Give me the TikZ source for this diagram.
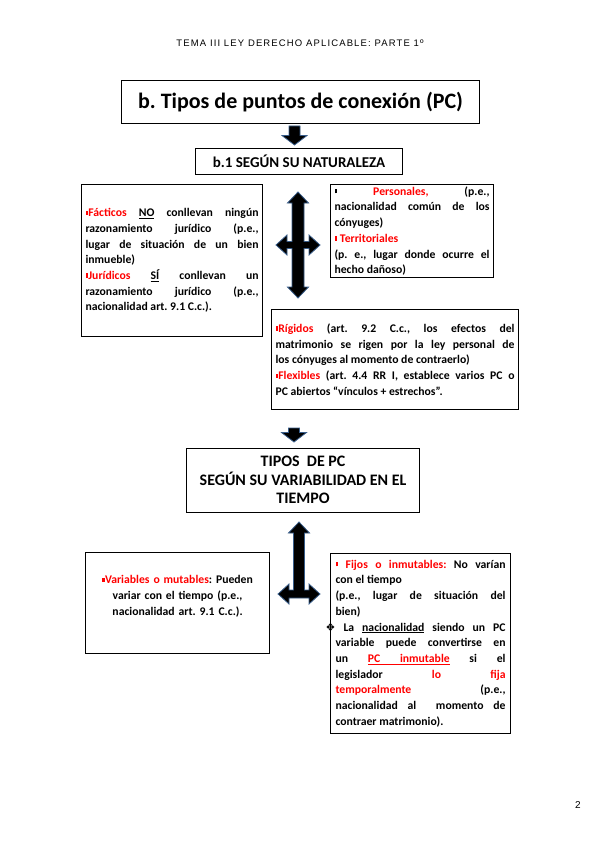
\documentclass[tikz,border=0pt]{standalone}
\usepackage{fontspec}
\setmainfont{Carlito}
\newfontfamily\cabecera[LetterSpace=12]{Liberation Sans}
\newfontfamily\pagina{Liberation Sans}
\newfontfamily\simbolos{DejaVu Sans}
\usetikzlibrary{positioning}
\definecolor{rojo}{HTML}{FF0000}
\definecolor{borde}{HTML}{385D8A}
\frenchspacing
\newcommand{\bul}[1][rojo]{\textcolor{#1}{\rule[1.8pt]{2.8pt}{4.2pt}}}
\newcommand{\rojo}[1]{\textcolor{rojo}{#1}}
\newcommand{\diamante}{{\simbolos\bfseries\fontsize{11}{11}\selectfont ❖}}
% subrayado propio y espacio subrayado que se estira
\newcommand{\subr}[1]{\setbox0\hbox{#1}\rlap{\rule[-1.8pt]{\wd0}{0.6pt}}\box0\relax}
\newcommand{\espsub}{\leaders\hrule height -1.2pt depth 1.8pt\hskip\fontdimen2\font plus\fontdimen3\font minus\fontdimen4\font}
% flecha de bloque hacia abajo: x, y arriba, y punta
\newcommand{\flechabaja}[3]{%
  \filldraw[bloque] (#1-5.5,#2) -- (#1+5.5,#2) -- (#1+5.5,#3-9.5) -- (#1+12.5,#3-9.5)
    -- (#1,#3) -- (#1-12.5,#3-9.5) -- (#1-5.5,#3-9.5) -- cycle;}

\begin{document}
\begin{tikzpicture}[x=1pt, y=-1pt,
    caja/.style={draw, line width=1.1pt, anchor=north west, inner xsep=4pt, inner ysep=0pt,
      align=justify, font=\fontsize{11.7}{15.7}\selectfont\bfseries},
    bloque/.style={fill=black, draw=borde, line width=0.8pt, line join=miter}]
    \useasboundingbox (0,0) rectangle (600,848);

    % Cabecera y numero de pagina
    \node[font=\cabecera\fontsize{9.5}{11}\selectfont] (cabecera) at (300,43) {TEMA III LEY DERECHO APLICABLE: PARTE 1º};
    \node[font=\pagina\fontsize{10}{12}\selectfont] (pagina) at (578,805) {2};

    % Titulo
    \node[caja, align=center, minimum width=358pt, minimum height=43pt,
      font=\fontsize{22}{26}\selectfont\bfseries] (titulo) at (121,80) {b. Tipos de puntos de conexión (PC)};
    \flechabaja{294.5}{126}{145}
    \node[caja, align=center, minimum width=207pt, minimum height=26pt,
      font=\fontsize{15}{18}\selectfont\bfseries] (naturaleza) at (195,148) {b.1 SEGÚN SU NATURALEZA};

    % Segun su naturaleza
    \node[caja, text width=173pt, minimum height=152pt] (facticos) at (81,184)
      {\bul\rojo{Fácticos} \subr{NO} conllevan ningún\linebreak razonamiento jurídico (p.e.,\linebreak
       lugar de situación de un bien\linebreak inmueble)\\
       \bul\rojo{Jurídicos} \subr{SÍ} conllevan un\linebreak razonamiento jurídico (p.e.,\linebreak
       nacionalidad art. 9.1 C.c.).};
    \node[caja, text width=155pt, minimum height=93pt] (personales) at (330,184)
      {\bul[black] \rojo{Personales,} (p.e.,\linebreak nacionalidad común de los\linebreak cónyuges)\\
       \bul{} \rojo{Territoriales}\\
       (p. e., lugar donde ocurre el\linebreak hecho dañoso)};
    \node[caja, text width=239pt, minimum height=100pt] (rigidos) at (271,309)
      {\bul\rojo{Rígidos} (art. 9.2 C.c., los efectos del\linebreak matrimonio se rigen por la ley personal de\linebreak
       los cónyuges al momento de contraerlo)\\
       \bul\rojo{Flexibles} (art. 4.4 RR I, establece varios PC o\linebreak PC abiertos “vínculos + estrechos”.};

    % Flecha de cuatro puntas
    \filldraw[bloque] (298,192) -- (308.5,203) -- (304,203) -- (304,241.5) -- (309,241.5) -- (309,235)
      -- (320,245) -- (309,255) -- (309,248.5) -- (304,248.5) -- (304,287) -- (308.5,287) -- (298,298)
      -- (287.5,287) -- (292,287) -- (292,248.5) -- (287,248.5) -- (287,255) -- (276,245) -- (287,235)
      -- (287,241.5) -- (292,241.5) -- (292,203) -- (287.5,203) -- cycle;

    % Segun su variabilidad en el tiempo
    \flechabaja{294}{428}{442}
    \node[caja, align=center, minimum width=233pt, minimum height=64pt,
      font=\fontsize{16}{18.5}\selectfont\bfseries] (variabilidad) at (186,447.5)
      {TIPOS\ \ DE PC\\SEGÚN SU VARIABILIDAD EN EL\\TIEMPO};

    % Flecha en T invertida
    \filldraw[bloque] (299,522) -- (309.5,533) -- (304.5,533) -- (304.5,590) -- (309,590) -- (309,584)
      -- (320,594) -- (309,604) -- (309,598) -- (289,598) -- (289,604) -- (278,594) -- (289,584)
      -- (289,590) -- (293.5,590) -- (293.5,533) -- (288.5,533) -- cycle;

    \node[caja, align=center, text width=176pt, minimum height=101pt] (variables) at (85,552)
      {\bul\rojo{Variables o mutables}: Pueden\\variar con el tiempo (p.e.,\\nacionalidad art. 9.1 C.c.).\\\mbox{}};
    \node[caja, text width=170pt, inner xsep=5pt, minimum height=180pt] (fijos) at (330,553)
      {\bul{} \rojo{Fijos o inmutables:} No varían\linebreak con el tiempo\\
       (p.e., lugar de situación del\linebreak bien)\\
       \llap{\diamante} La \subr{nacionalidad} siendo un PC\linebreak variable puede convertirse en\linebreak
       un \textcolor{rojo}{\subr{PC}\espsub\subr{inmutable}} si el\linebreak legislador \rojo{lo} \rojo{fija}\linebreak
       \rojo{temporalmente} (p.e.,\linebreak nacionalidad al\ \ momento de\linebreak contraer matrimonio).};

\end{tikzpicture}
\end{document}
